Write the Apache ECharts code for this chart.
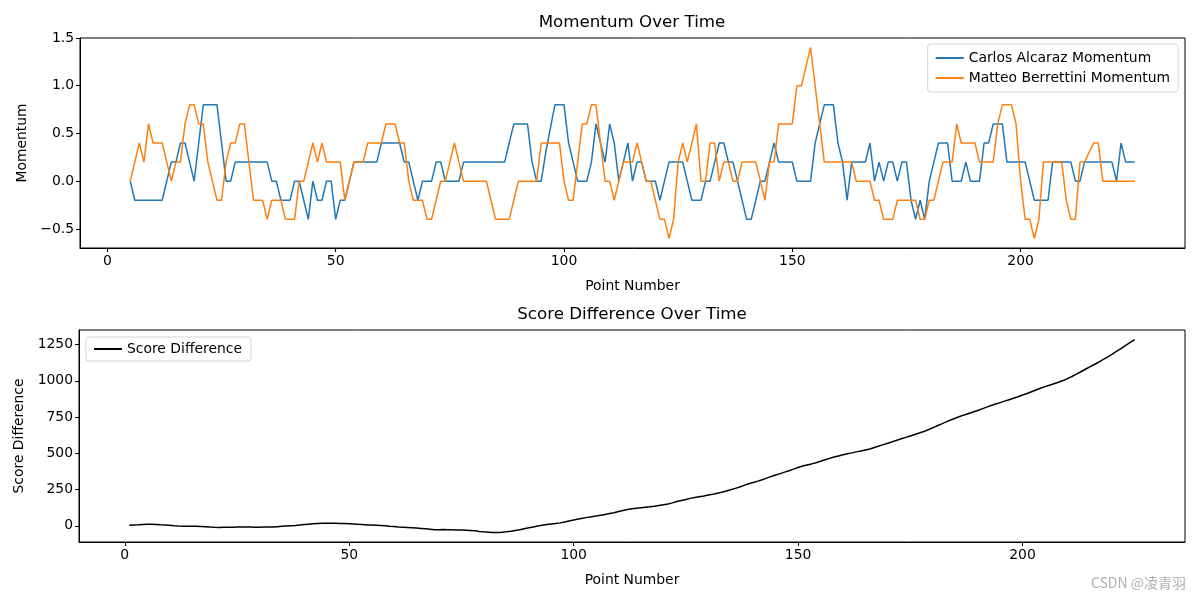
<!DOCTYPE html>
<html><head><meta charset="utf-8">
<script src="https://cdn.jsdelivr.net/npm/echarts/dist/echarts.min.js"></script>
<style>html,body{margin:0;padding:0;background:#fff}#c{width:1200px;height:600px}</style>
</head><body><div id="c"></div>
<script>
const momentumStart = 5;
const alcarazMomentum = [
0,-0.2,-0.2,-0.2,-0.2,-0.2,-0.2,-0.2,0,0.2,0.2,0.4,0.4,0.2,0,0.4,0.8,0.8,0.8,0.8,
0.4,0,0,0.2,0.2,0.2,0.2,0.2,0.2,0.2,0.2,0,0,-0.2,-0.2,-0.2,0,0,-0.2,-0.4,
0,-0.2,-0.2,0,0,-0.4,-0.2,-0.2,0,0.2,0.2,0.2,0.2,0.2,0.2,0.4,0.4,0.4,0.4,0.4,
0.2,0.2,0,-0.2,0,0,0,0.2,0.2,0,0,0,0,0.2,0.2,0.2,0.2,0.2,0.2,0.2,
0.2,0.2,0.2,0.4,0.6,0.6,0.6,0.6,0.2,0,0,0.3,0.55,0.8,0.8,0.8,0.4,0.2,0,0,
0,0.2,0.6,0.4,0.2,0.6,0.4,0,0.2,0.4,0,0.2,0.2,0,0,0,-0.2,0,0.2,0.2,
0.2,0.2,0,-0.2,-0.2,-0.2,0,0,0.2,0.4,0.4,0.2,0.2,0,-0.2,-0.4,-0.4,-0.2,0,0,
0.2,0.4,0.2,0.2,0.2,0.2,0,0,0,0,0.4,0.6,0.8,0.8,0.8,0.4,0.2,-0.2,0.2,0.2,
0.2,0.2,0.4,0,0.2,0,0.2,0.2,0,0.2,0.2,-0.2,-0.4,-0.2,-0.4,0,0.2,0.4,0.4,0.4,
0,0,0,0.2,0,0,0,0.4,0.4,0.6,0.6,0.6,0.2,0.2,0.2,0.2,0.2,0,-0.2,-0.2,
-0.2,-0.2,0.2,0.2,0.2,0.2,0.2,0,0,0.2,0.2,0.2,0.2,0.2,0.2,0.2,0,0.4,0.2,0.2,0.2
];
const berrettiniMomentum = [
0,0.2,0.4,0.2,0.6,0.4,0.4,0.4,0.2,0,0.2,0.2,0.6,0.8,0.8,0.6,0.6,0.2,0,-0.2,
-0.2,0.2,0.4,0.4,0.6,0.6,0.2,-0.2,-0.2,-0.2,-0.4,-0.2,-0.2,-0.2,-0.4,-0.4,-0.4,0,0,0.2,
0.4,0.2,0.4,0.2,0.2,0.2,0.2,-0.2,0,0.2,0.2,0.2,0.4,0.4,0.4,0.4,0.6,0.6,0.6,0.4,
0.4,0,-0.2,-0.2,-0.2,-0.4,-0.4,-0.2,0,0,0.2,0.4,0.2,0,0,0,0,0,0,-0.2,
-0.4,-0.4,-0.4,-0.4,-0.2,0,0,0,0,0,0.4,0.4,0.4,0.4,0.4,0,-0.2,-0.2,0.2,0.6,
0.6,0.8,0.8,0.4,0,0,-0.2,0,0.2,0.2,0.2,0.4,0.2,0,0,-0.2,-0.4,-0.4,-0.6,-0.4,
0.2,0.4,0.2,0.4,0.6,0,0,0.4,0.4,0,0.2,0.2,0,0,0.2,0.2,0.2,0.2,0,-0.2,
0.2,0.2,0.6,0.6,0.6,0.6,1.0,1.0,1.2,1.4,1.0,0.6,0.2,0.2,0.2,0.2,0.2,0.2,0.2,0,
0,0,0,-0.2,-0.2,-0.4,-0.4,-0.4,-0.2,-0.2,-0.2,-0.2,-0.2,-0.4,-0.4,-0.2,-0.2,0,0.2,0.2,
0.2,0.6,0.4,0.4,0.4,0.4,0.2,0.2,0.2,0.2,0.6,0.8,0.8,0.8,0.6,0,-0.4,-0.4,-0.6,-0.4,
0.2,0.2,0.2,0.2,0.2,-0.2,-0.4,-0.4,0.2,0.2,0.3,0.4,0.4,0,0,0,0,0,0,0,0
];
const scoreStart = 1;
const scoreDifference = [
4,6,7,9,10,10,9,7,6,3,0,-2,-3,-4,-4,-4,-5,-6,-9,-11,
-12,-11,-10,-10,-9,-8,-8,-9,-10,-10,-9,-9,-8,-6,-4,-2,0,2,5,8,
11,14,16,17,17,17,17,16,15,14,13,10,8,6,5,4,2,0,-3,-5,
-8,-10,-12,-14,-16,-18,-21,-24,-27,-27,-26,-27,-28,-29,-30,-31,-33,-35,-39,-42,
-44,-46,-46,-45,-42,-38,-33,-28,-21,-14,-8,-2,4,8,12,15,20,26,33,40,
46,52,58,63,67,72,78,84,90,98,105,112,117,121,125,128,131,135,140,145,
150,158,167,175,182,189,195,201,206,212,218,225,232,240,249,258,268,279,290,299,
308,318,329,340,350,360,370,380,391,402,412,420,427,435,445,455,465,474,482,490,
497,503,510,516,523,530,540,550,560,570,580,590,600,610,620,630,640,650,663,676,
690,703,717,730,742,754,765,775,785,795,807,819,830,840,850,860,870,880,890,902,
913,925,937,949,960,970,980,990,1002,1015,1030,1046,1063,1080,1097,1113,1130,1148,1166,1185,
1205,1225,1245,1265,1285
];
const pointTicks = [0, 50, 100, 150, 200];
const momentumTicks = [-0.5, 0, 0.5, 1.0, 1.5];
const scoreTicks = [0, 250, 500, 750, 1000, 1250];

function pairs(start, arr) { return arr.map((v, i) => [start + i, v]); }
const FONT = 'DejaVu Sans';
const FS = 13.9;
const fmtMom = v => (v < 0 ? '\u2212' : '') + Math.abs(v).toFixed(1);
const fmtScore = v => (v < 0 ? '\u2212' : '') + Math.abs(v);

function xAxisCfg(idx, min, max) {
  return {
    type: 'value', gridIndex: idx, min: min, max: max,
    name: 'Point Number', nameLocation: 'middle', nameGap: 31,
    nameTextStyle: { fontFamily: FONT, fontSize: FS, color: '#000' },
    axisLine: { show: true, onZero: false, lineStyle: { color: '#000', width: 1 } },
    axisTick: { show: true, length: 4, customValues: pointTicks, lineStyle: { color: '#000' } },
    axisLabel: { customValues: pointTicks, fontFamily: FONT, fontSize: FS, color: '#000', margin: 6 },
    splitLine: { show: false }
  };
}
function yAxisCfg(idx, min, max, ticks, fmt, name, gap) {
  return {
    type: 'value', gridIndex: idx, min: min, max: max,
    name: name, nameLocation: 'middle', nameGap: gap,
    nameTextStyle: { fontFamily: FONT, fontSize: FS, color: '#000' },
    axisLine: { show: true, onZero: false, lineStyle: { color: '#000', width: 1 } },
    axisTick: { show: true, length: 4, customValues: ticks, lineStyle: { color: '#000' } },
    axisLabel: { customValues: ticks, formatter: fmt, fontFamily: FONT, fontSize: FS, color: '#000', margin: 6 },
    splitLine: { show: false }
  };
}

const chart = echarts.init(document.getElementById('c'), null, { renderer: 'canvas' });
chart.setOption({
  animation: false,
  backgroundColor: '#fff',
  grid: [
    { left: 80, right: 15, top: 38, height: 210, show: true, borderColor: '#000', borderWidth: 1 },
    { left: 79, right: 15, top: 330, height: 212, show: true, borderColor: '#000', borderWidth: 1 }
  ],
  xAxis: [xAxisCfg(0, -6, 236), xAxisCfg(1, -10.2, 236.2)],
  yAxis: [
    yAxisCfg(0, -0.7, 1.5, momentumTicks, fmtMom, 'Momentum', 43),
    yAxisCfg(1, -112, 1351, scoreTicks, fmtScore, 'Score Difference', 48)
  ],
  legend: [
    {
      data: ['Carlos Alcaraz Momentum', 'Matteo Berrettini Momentum'],
      orient: 'vertical', right: 22, top: 44, itemGap: 6,
      icon: 'rect', itemWidth: 28, itemHeight: 2,
      padding: [7, 8, 7, 8], borderColor: '#d5d5d5', borderWidth: 1, borderRadius: 3,
      backgroundColor: 'rgba(255,255,255,0.8)',
      textStyle: { fontFamily: FONT, fontSize: FS, color: '#000' }
    },
    {
      data: ['Score Difference'],
      orient: 'vertical', left: 86, top: 337,
      icon: 'rect', itemWidth: 28, itemHeight: 2,
      padding: [5, 9, 5, 8], borderColor: '#d5d5d5', borderWidth: 1, borderRadius: 3,
      backgroundColor: 'rgba(255,255,255,0.8)',
      textStyle: { fontFamily: FONT, fontSize: FS, color: '#000' }
    }
  ],
  series: [
    { name: 'Carlos Alcaraz Momentum', type: 'line', xAxisIndex: 0, yAxisIndex: 0,
      data: pairs(momentumStart, alcarazMomentum), showSymbol: false, symbol: 'none',
      lineStyle: { color: '#1f77b4', width: 1.5 }, itemStyle: { color: '#1f77b4' } },
    { name: 'Matteo Berrettini Momentum', type: 'line', xAxisIndex: 0, yAxisIndex: 0,
      data: pairs(momentumStart, berrettiniMomentum), showSymbol: false, symbol: 'none',
      lineStyle: { color: '#ff7f0e', width: 1.5 }, itemStyle: { color: '#ff7f0e' } },
    { name: 'Score Difference', type: 'line', xAxisIndex: 1, yAxisIndex: 1,
      data: pairs(scoreStart, scoreDifference), showSymbol: false, symbol: 'none',
      lineStyle: { color: '#000', width: 1.5 }, itemStyle: { color: '#000' } }
  ],
  graphic: [
    { type: 'text', x: 632, y: 23, style: { text: 'Momentum Over Time', fontFamily: FONT, fontSize: 16.7, fill: '#000', textAlign: 'center', textVerticalAlign: 'middle' } },
    { type: 'text', x: 632, y: 315, style: { text: 'Score Difference Over Time', fontFamily: FONT, fontSize: 16.7, fill: '#000', textAlign: 'center', textVerticalAlign: 'middle' } },
    { type: 'text', right: 14, top: 576, style: { text: 'CSDN @凌青羽', fontFamily: 'Noto Sans CJK SC', fontSize: 14, fill: '#b0b0b0' } }
  ]
});
</script></body></html>
